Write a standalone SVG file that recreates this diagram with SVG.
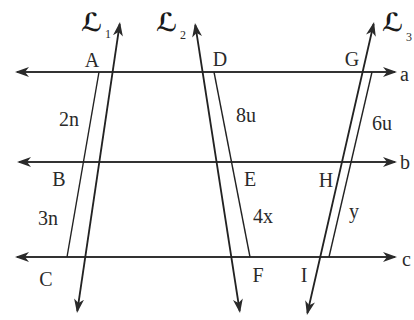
<svg xmlns="http://www.w3.org/2000/svg" width="414" height="320" viewBox="0 0 414 320">
<defs>
<marker id="ah" viewBox="0 0 14 10" refX="12" refY="5" markerWidth="14" markerHeight="10" markerUnits="userSpaceOnUse" orient="auto-start-reverse">
<path d="M0,0 L14,5 L0,10 L4,5 Z" fill="#2a2a2a"/>
</marker>
<style>
.ln{stroke:#333;stroke-width:2.2;fill:none;marker-start:url(#ah);marker-end:url(#ah)}
.tr{stroke:#222;stroke-width:1.8;fill:none;marker-start:url(#ah);marker-end:url(#ah)}
.sg{stroke:#222;stroke-width:1.4;fill:none}
.t{font-family:"Liberation Serif","Times New Roman",serif;font-size:20px;fill:#2a2a2a}
.sc{font-family:"DejaVu Serif","DejaVu Sans",serif;font-size:25px;font-weight:bold;font-style:italic;fill:#1a1a1a}
.sub{font-family:"Liberation Serif",serif;font-size:12px;fill:#2a2a2a}
</style>
</defs>
<rect width="414" height="320" fill="#ffffff"/>
<g id="connectors">
<path class="ln" d="M17,72 H395"/>
<path class="ln" d="M19,162 H395"/>
<path class="ln" d="M17,257 H395"/>
<path class="sg" d="M99,72 L67,257"/>
<path class="sg" d="M214,72 L250,257"/>
<path class="sg" d="M372,72 L329,257"/>
<path class="tr" d="M77.3,311 L119.7,24"/>
<path class="tr" d="M195.3,25 L239.7,311"/>
<path class="tr" d="M373.6,24 L307.4,313"/>
</g>
<g id="L1"><text class="sc" x="81" y="31">ℒ</text><text class="sub" x="105" y="38">1</text></g>
<g id="L2"><text class="sc" x="156" y="31">ℒ</text><text class="sub" x="180" y="39">2</text></g>
<g id="L3"><text class="sc" x="382" y="31">ℒ</text><text class="sub" x="406" y="41">3</text></g>
<g id="labels">
<text class="t" x="92" y="67" text-anchor="middle">A</text>
<text class="t" x="220" y="66" text-anchor="middle">D</text>
<text class="t" x="352" y="66" text-anchor="middle">G</text>
<text class="t" x="400" y="81">a</text>
<text class="t" x="69" y="126" text-anchor="middle">2n</text>
<text class="t" x="246" y="122" text-anchor="middle">8u</text>
<text class="t" x="382" y="130" text-anchor="middle">6u</text>
<text class="t" x="59" y="186" text-anchor="middle">B</text>
<text class="t" x="250" y="186" text-anchor="middle">E</text>
<text class="t" x="326" y="187" text-anchor="middle">H</text>
<text class="t" x="400" y="169">b</text>
<text class="t" x="48" y="225" text-anchor="middle">3n</text>
<text class="t" x="263" y="223" text-anchor="middle">4x</text>
<text class="t" x="354" y="218" text-anchor="middle">y</text>
<text class="t" x="46" y="286" text-anchor="middle">C</text>
<text class="t" x="258" y="282" text-anchor="middle">F</text>
<text class="t" x="304" y="282" text-anchor="middle">I</text>
<text class="t" x="402" y="266">c</text>
</g>
</svg>
